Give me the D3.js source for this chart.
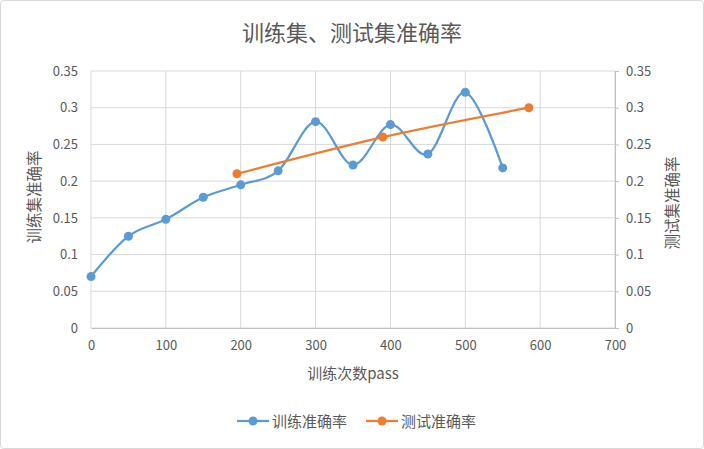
<!DOCTYPE html>
<html><head><meta charset="utf-8">
<script src="https://cdn.jsdelivr.net/npm/d3@7/dist/d3.min.js"></script>
<style>body{margin:0;background:#fff;}svg{display:block;font-family:"Noto Sans CJK SC","Noto Sans",sans-serif;}</style>
</head><body><svg id="c" width="704" height="449"></svg>
<script>
const trainX = [0,50,100,150,200,250,300,350,400,450,500,550];
const trainY = [0.07,0.125,0.148,0.178,0.195,0.214,0.281,0.222,0.277,0.237,0.321,0.218];
const testX = [195,390,585];
const testY = [0.21,0.26,0.30];
const xTicks = [0,100,200,300,400,500,600,700];
const yTicks = [0,0.05,0.1,0.15,0.2,0.25,0.3,0.35];
const title = "训练集、测试集准确率";
const xTitle = "训练次数pass";
const yLeftTitle = "训练集准确率";
const yRightTitle = "测试集准确率";
const seriesNames = ["训练准确率","测试准确率"];
const colors = ["#5B9BD5","#ED7D31"];

const svg = d3.select("#c");
svg.append("rect").attr("x",0.5).attr("y",0.5).attr("width",703).attr("height",448).attr("rx",3)
  .attr("fill","#fff").attr("stroke","#d9d9d9");
const L=91, R=615, T=71, B=328;
const x = d3.scaleLinear().domain([0,700]).range([L,R]);
const y = d3.scaleLinear().domain([0,0.35]).range([B,T]);
const fmt = d => d===0?"0":String(+d.toFixed(2));
const grid = svg.append("g");
yTicks.forEach(t=>grid.append("line").attr("x1",L).attr("x2",R).attr("y1",y(t)).attr("y2",y(t)).attr("stroke","#d9d9d9").attr("stroke-width",1));
xTicks.forEach(t=>grid.append("line").attr("y1",T).attr("y2",B).attr("x1",x(t)).attr("x2",x(t)).attr("stroke","#d9d9d9").attr("stroke-width",1));
const ax = svg.append("g").attr("transform",`translate(0,${B})`).call(d3.axisBottom(x).tickValues(xTicks).tickFormat(d=>d).tickSize(0).tickPadding(13));
const ay = svg.append("g").attr("transform",`translate(${L},0)`).call(d3.axisLeft(y).tickValues(yTicks).tickFormat(fmt).tickSize(0).tickPadding(13));
const ay2 = svg.append("g").attr("transform",`translate(${R},0)`).call(d3.axisRight(y).tickValues(yTicks).tickFormat(fmt).tickSize(4).tickPadding(7));
[ax,ay,ay2].forEach(a=>{a.selectAll("text").attr("fill","#595959").style("font-size","13px").style("font-family","'Noto Sans CJK SC',sans-serif");
  a.selectAll("line").attr("stroke","#bfbfbf"); a.select(".domain").attr("stroke","#bfbfbf");});
ay.select(".domain").remove();

const line = d3.line().x(d=>x(d[0])).y(d=>y(d[1])).curve(d3.curveCatmullRom.alpha(0));
const tr = trainX.map((v,i)=>[v,trainY[i]]);
const te = testX.map((v,i)=>[v,testY[i]]);
[[tr,colors[0]],[te,colors[1]]].forEach(([data,c])=>{
  svg.append("path").datum(data).attr("d",line).attr("fill","none").attr("stroke",c).attr("stroke-width",2.25);
  svg.append("g").selectAll("circle").data(data).join("circle").attr("cx",d=>x(d[0])).attr("cy",d=>y(d[1])).attr("r",4.5).attr("fill",c);
});
svg.append("text").attr("x",352).attr("y",41).attr("text-anchor","middle").attr("fill","#595959").style("font-size","22px").text(title);
svg.append("text").attr("x",353).attr("y",379).attr("text-anchor","middle").attr("fill","#595959").style("font-size","15px").text(xTitle);
svg.append("text").attr("transform","translate(40,197) rotate(-90)").attr("text-anchor","middle").attr("fill","#595959").style("font-size","15.5px").text(yLeftTitle);
svg.append("text").attr("transform","translate(678,203) rotate(-90)").attr("text-anchor","middle").attr("fill","#595959").style("font-size","15.5px").text(yRightTitle);
const lg=[[237,seriesNames[0],colors[0]],[366,seriesNames[1],colors[1]]];
lg.forEach(([lx,n,c])=>{
  svg.append("line").attr("x1",lx).attr("x2",lx+32).attr("y1",421).attr("y2",421).attr("stroke",c).attr("stroke-width",2.25);
  svg.append("circle").attr("cx",lx+16).attr("cy",421).attr("r",4.5).attr("fill",c);
  svg.append("text").attr("x",lx+35).attr("y",426.5).attr("fill","#595959").style("font-size","15px").text(n);
});
</script></body></html>
